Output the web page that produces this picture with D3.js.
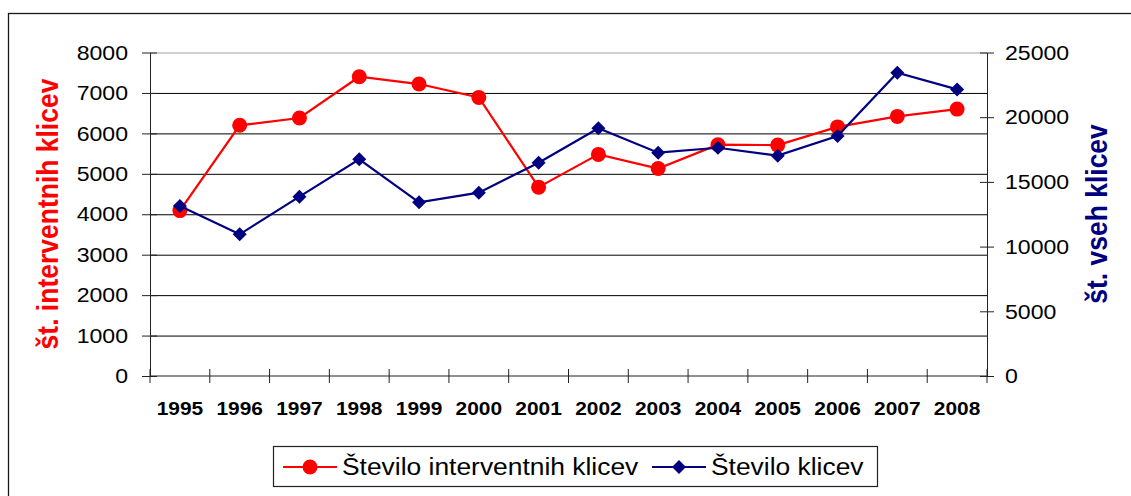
<!DOCTYPE html>
<html>
<head>
<meta charset="utf-8">
<script src="https://cdn.jsdelivr.net/npm/d3@7"></script>
<style>
  body { margin: 0; background: #fff; }
  svg { display: block; font-family: "Liberation Sans", Arial, sans-serif; }
  .axis path, .axis line { stroke: #222; }
  .grid line { stroke: #000; }
  .grid path { display: none; }
</style>
</head>
<body>
<div class="chart"></div>
<script>
// data
var years = ["1995", "1996", "1997", "1998", "1999", "2000", "2001",
             "2002", "2003", "2004", "2005", "2006", "2007", "2008"];
var interventni = [4090, 6200, 6380, 7400, 7220, 6890, 4670,
                   5480, 5130, 5720, 5710, 6160, 6420, 6600];
var vsiKlici = [13140, 10950, 13860, 16750, 13420, 14170, 16480,
                19140, 17260, 17640, 17030, 18550, 23440, 22150];
var leftTicks = [0, 1000, 2000, 3000, 4000, 5000, 6000, 7000, 8000];
var rightTicks = [0, 5000, 10000, 15000, 20000, 25000];

var W = 1131, H = 496;
var plot = { left: 150, right: 987, top: 52.5, bottom: 376 };
var SX = 1.1; // text in the picture is a bit wider than tall
var numFormat = d3.format("d");

var svg = d3.select(".chart").append("svg")
    .attr("width", W)
    .attr("height", H);

// outer chart border (cut off at the right and bottom)
svg.append("rect")
    .attr("x", 8.5).attr("y", 13.5)
    .attr("width", 1200).attr("height", 600)
    .attr("fill", "none")
    .attr("stroke", "#1a1a1a")
    .attr("stroke-width", 1.3);

var x = d3.scaleBand()
    .domain(years)
    .range([plot.left, plot.right])
    .padding(0);
var yL = d3.scaleLinear().domain([0, 8000]).range([plot.bottom, plot.top]);
var yR = d3.scaleLinear().domain([0, 25000]).range([plot.bottom, plot.top]);

// gridlines
var grid = svg.append("g")
    .attr("class", "grid")
    .attr("transform", "translate(" + plot.left + ",0)")
    .call(d3.axisLeft(yL).tickValues(leftTicks.slice(1)).tickSize(-(plot.right - plot.left)).tickFormat(""));
grid.selectAll(".tick line")
    .style("stroke", function(d) { return d === 8000 ? "#c0c0c0" : "#000"; })
    .attr("stroke-width", function(d) { return d === 8000 ? 1.5 : 1; });

// left axis
var leftAxis = svg.append("g")
    .attr("class", "axis")
    .attr("transform", "translate(" + plot.left + ",0)")
    .call(d3.axisLeft(yL).tickValues(leftTicks).tickFormat(numFormat)
      .tickSizeInner(8).tickSizeOuter(0).tickPadding(14));
leftAxis.selectAll(".tick").append("line").attr("x2", 7).style("stroke", "#222");
leftAxis.selectAll(".tick text")
    .attr("font-size", 21)
    .attr("fill", "#000")
    .attr("x", -22 / SX)
    .attr("transform", "scale(" + SX + ",1)");

// right axis
var rightAxis = svg.append("g")
    .attr("class", "axis")
    .attr("transform", "translate(" + plot.right + ",0)")
    .call(d3.axisRight(yR).tickValues(rightTicks).tickFormat(numFormat)
      .tickSizeInner(7).tickSizeOuter(0).tickPadding(11));
rightAxis.selectAll(".tick").append("line").attr("x2", -7).style("stroke", "#222");
rightAxis.selectAll(".tick text")
    .attr("font-size", 21)
    .attr("fill", "#000")
    .attr("x", 18 / SX)
    .attr("transform", "scale(" + SX + ",1)");

// bottom axis: labels at band centres, ticks on band edges
var bottomAxis = svg.append("g")
    .attr("class", "axis")
    .attr("transform", "translate(0," + plot.bottom + ")")
    .call(d3.axisBottom(x).tickSize(0).tickPadding(26));
bottomAxis.select(".domain").attr("d", "M" + plot.left + ",0H" + plot.right);
bottomAxis.selectAll(".tick text")
    .attr("font-size", 19)
    .attr("font-weight", "bold")
    .attr("fill", "#000")
    .attr("transform", "scale(" + SX + ",1)");
var edges = years.map(function(d) { return x(d); }).concat([plot.right]);
bottomAxis.selectAll(".edge")
    .data(edges)
    .enter().append("line")
    .attr("class", "edge")
    .attr("x1", function(d) { return d; })
    .attr("x2", function(d) { return d; })
    .attr("y1", -7)
    .attr("y2", 7)
    .style("stroke", "#222");

// axis titles
svg.append("text")
    .attr("transform", "translate(48,214) scale(" + SX + ",1) rotate(-90)")
    .attr("text-anchor", "middle")
    .attr("dy", ".36em")
    .attr("font-size", 26.5)
    .attr("font-weight", "bold")
    .attr("fill", "#ff0000")
    .text("št. interventnih klicev");
svg.append("text")
    .attr("transform", "translate(1097,214) scale(" + SX + ",1) rotate(-90)")
    .attr("text-anchor", "middle")
    .attr("dy", ".36em")
    .attr("font-size", 26.5)
    .attr("font-weight", "bold")
    .attr("fill", "#000080")
    .text("št. vseh klicev");

// series
var cx = function(d, i) { return x(years[i]) + x.bandwidth() / 2; };
var circleSym = d3.symbol().type(d3.symbolCircle).size(Math.PI * 7.5 * 7.5);
var diamondSym = d3.symbol().type(d3.symbolSquare).size(98);

var redLine = d3.line().x(cx).y(function(d) { return yL(d); });
svg.append("path")
    .datum(interventni)
    .attr("d", redLine)
    .attr("fill", "none")
    .attr("stroke", "#ff0000")
    .attr("stroke-width", 2.2);
svg.selectAll(".red-pt")
    .data(interventni)
    .enter().append("path")
    .attr("class", "red-pt")
    .attr("d", circleSym)
    .attr("transform", function(d, i) { return "translate(" + cx(d, i) + "," + yL(d) + ")"; })
    .attr("fill", "#ff0000");

var blueLine = d3.line().x(cx).y(function(d) { return yR(d); });
svg.append("path")
    .datum(vsiKlici)
    .attr("d", blueLine)
    .attr("fill", "none")
    .attr("stroke", "#000080")
    .attr("stroke-width", 2.2);
svg.selectAll(".blue-pt")
    .data(vsiKlici)
    .enter().append("path")
    .attr("class", "blue-pt")
    .attr("d", diamondSym)
    .attr("transform", function(d, i) { return "translate(" + cx(d, i) + "," + yR(d) + ") rotate(45)"; })
    .attr("fill", "#000080");

// legend
var legend = svg.append("g").attr("class", "legend");
legend.append("rect")
    .attr("x", 273.5).attr("y", 446.5)
    .attr("width", 604).attr("height", 40)
    .attr("fill", "#fff")
    .attr("stroke", "#222")
    .attr("stroke-width", 1.2);

var legendItems = [
  { label: "Število interventnih klicev", color: "#ff0000", sym: circleSym, rot: 0, x0: 283 },
  { label: "Število klicev", color: "#000080", sym: diamondSym, rot: 45, x0: 652 }
];
var item = legend.selectAll(".item")
    .data(legendItems)
    .enter().append("g")
    .attr("class", "item")
    .attr("transform", function(d) { return "translate(" + d.x0 + ",467)"; });
item.append("line")
    .attr("x1", 0).attr("x2", 54)
    .attr("stroke", function(d) { return d.color; })
    .attr("stroke-width", 2.2);
item.append("path")
    .attr("d", function(d) { return d.sym(); })
    .attr("transform", function(d) { return "translate(27,0) rotate(" + d.rot + ")"; })
    .attr("fill", function(d) { return d.color; });
item.append("text")
    .attr("transform", "translate(59,0) scale(" + SX + ",1)")
    .attr("dy", ".35em")
    .attr("font-size", 24)
    .attr("fill", "#000")
    .text(function(d) { return d.label; });
</script>
</body>
</html>
